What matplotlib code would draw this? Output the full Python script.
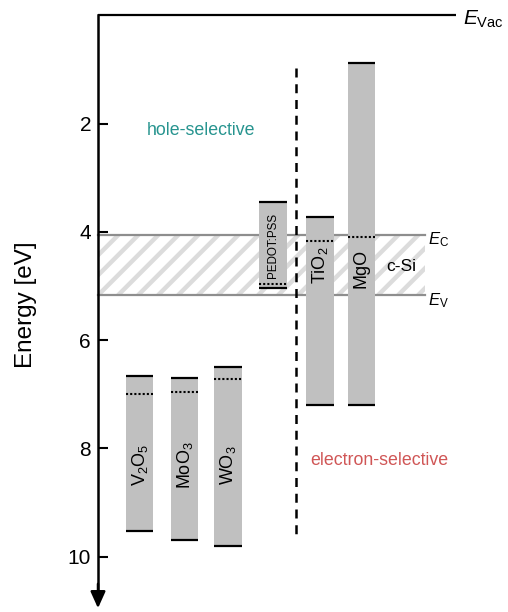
import matplotlib
matplotlib.use("Agg")
import matplotlib.pyplot as plt
import numpy as np
from matplotlib.patches import Rectangle

plt.rcParams['font.family'] = ['Liberation Sans', 'DejaVu Sans']
plt.rcParams['mathtext.fontset'] = 'custom'
plt.rcParams['mathtext.rm'] = 'Liberation Sans'
plt.rcParams['mathtext.it'] = 'Liberation Sans:italic'
plt.rcParams['mathtext.bf'] = 'Liberation Sans:bold'

# ---- data (energies in eV below vacuum level) ----
materials = [r'$\mathrm{V_2O_5}$', r'$\mathrm{MoO_3}$', r'$\mathrm{WO_3}$',
             'PEDOT:PSS', r'$\mathrm{TiO_2}$', 'MgO']
upper_edge = [6.67, 6.69, 6.49, 3.45, 3.72, 0.88]
lower_edge = [9.52, 9.69, 9.80, 5.04, 7.19, 7.19]
fermi_level = [7.00, 6.95, 6.71, 4.96, 4.16, 4.10]
label_energy = [8.30, 8.30, 8.30, 4.25, 4.62, 4.68]
si_ec = 4.05
si_ev = 5.17
yticks = [2, 4, 6, 8, 10]

# ---- layout (x in figure pixel-like units) ----
bar_x = [139.7, 184.7, 228.0, 273.0, 320.0, 361.4]
bar_w = 27.5
label_size = [13, 13, 13, 8.4, 13, 13]

fig = plt.figure(figsize=(5.08, 6.12), dpi=100)
ax = fig.add_axes([0, 0, 1, 1])
ax.set_xlim(0, 508)
ax.set_ylim(11.02, -0.283)

for s in ['top', 'right', 'bottom']:
    ax.spines[s].set_visible(False)
ax.spines['left'].set_position(('data', 98))
ax.spines['left'].set_bounds(0, 10.7)
ax.spines['left'].set_linewidth(1.8)
ax.set_xticks([])
ax.set_yticks(yticks)
ax.set_yticklabels([str(t) for t in yticks], fontsize=15)
ax.tick_params(axis='y', direction='in', length=7, width=1.5, pad=5)
ax.set_facecolor('none')

# arrow head at bottom of axis
ax.annotate('', xy=(98, 10.95), xytext=(98, 10.5),
            arrowprops=dict(arrowstyle='-|>,head_width=0.45,head_length=1.0',
                            color='black', lw=1.8, shrinkA=0, shrinkB=0))

# vacuum level line
ax.plot([98, 456], [0, 0], color='black', lw=1.6, solid_capstyle='butt')
ax.text(463, 0.17, r'$E_{\mathrm{Vac}}$', fontsize=15, ha='left', va='baseline')

# c-Si band (hatched)
x0, x1 = 98, 425
rect = Rectangle((x0, si_ec), x1 - x0, si_ev - si_ec, facecolor='white',
                 edgecolor='none', zorder=1)
ax.add_patch(rect)
px_per_ev = 54.15
dy_px = (si_ev - si_ec) * px_per_ev
for xs in np.arange(x0 - 80, x1 + 20, 20.0):
    ln, = ax.plot([xs, xs + dy_px], [si_ev, si_ec], color='#dcdcdc', lw=3.2,
                  zorder=1.5, solid_capstyle='butt')
    ln.set_clip_path(rect)
ax.plot([x0, x1], [si_ec, si_ec], color='#8e8e8e', lw=1.6, zorder=2)
ax.plot([x0, x1], [si_ev, si_ev], color='#8e8e8e', lw=1.6, zorder=2)
ax.text(428, si_ec + 0.17, r'$E_{\mathrm{C}}$', fontsize=12, ha='left', va='baseline')
ax.text(428, si_ev + 0.19, r'$E_{\mathrm{V}}$', fontsize=12, ha='left', va='baseline')
ax.text(401, (si_ec + si_ev) / 2 + 0.02, 'c-Si', fontsize=12.5, ha='center', va='center')

# dashed separator
ax.plot([296, 296], [0.97, 9.65], color='black', lw=1.8, ls=(0, (3.6, 2.7)), zorder=4)

# bars
heights = [lo - up for lo, up in zip(lower_edge, upper_edge)]
ax.bar(bar_x, heights, bottom=upper_edge, width=bar_w, color='#c0c0c0', zorder=3)
for x, up, lo, ef, name, le, fs in zip(bar_x, upper_edge, lower_edge, fermi_level,
                                       materials, label_energy, label_size):
    ax.plot([x - bar_w / 2, x + bar_w / 2], [up, up], color='black', lw=1.6,
            zorder=5, solid_capstyle='butt')
    ax.plot([x - bar_w / 2, x + bar_w / 2], [lo, lo], color='black', lw=1.6,
            zorder=5, solid_capstyle='butt')
    ax.plot([x - bar_w / 2, x + bar_w / 2], [ef, ef], color='black', lw=1.5,
            ls=(0, (1, 1)), zorder=5)
    ax.text(x, le, name, rotation=90, fontsize=fs, ha='center', va='center', zorder=6)

# annotations
ax.text(201, 2.13, 'hole-selective', fontsize=12.8, color='#27948f',
        ha='center', va='center')
ax.text(379, 8.22, 'electron-selective', fontsize=12.8, color='#d05656',
        ha='center', va='center')
ax.text(26, 5.35, 'Energy [eV]', fontsize=17.5, rotation=90, ha='center', va='center')

fig.savefig('out.png', dpi=100)
